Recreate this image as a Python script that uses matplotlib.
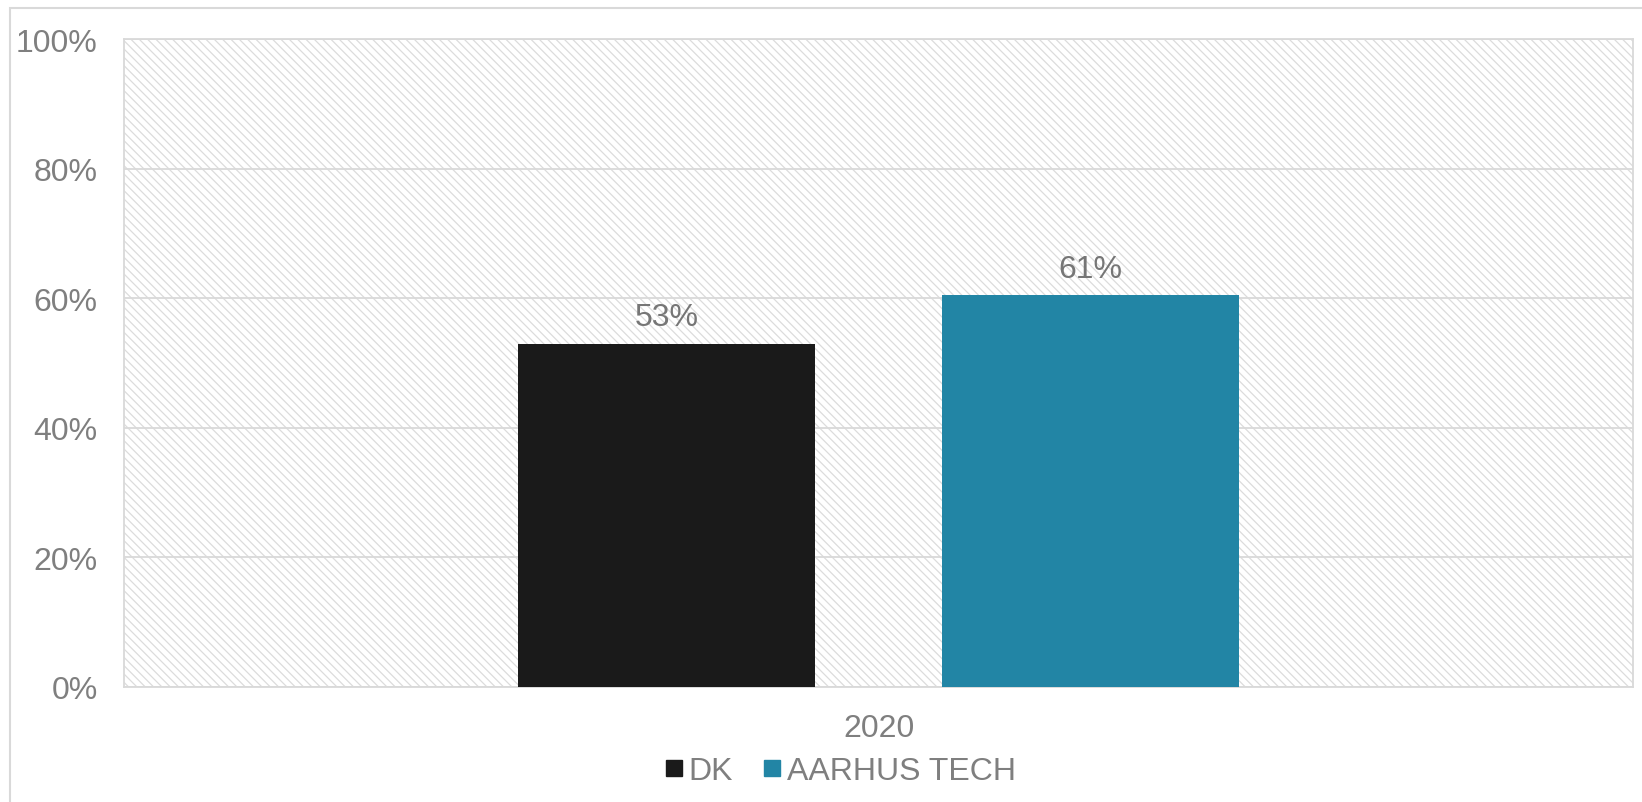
import matplotlib
matplotlib.use("Agg")
import matplotlib.pyplot as plt
from matplotlib.patches import Rectangle
from matplotlib.lines import Line2D

categories = ["2020"]
series_names = ["DK", "AARHUS TECH"]
values = [0.53, 0.605]
value_labels = ["53%", "61%"]
colors = ["#1a1a1a", "#2285a5"]
yticks = [0.0, 0.2, 0.4, 0.6, 0.8, 1.0]
ytick_labels = ["0%", "20%", "40%", "60%", "80%", "100%"]

W, H = 1642, 803
fig = plt.figure(figsize=(W / 100, H / 100), dpi=100)
plt.rcParams["font.family"] = ["Liberation Sans", "DejaVu Sans"]
plt.rcParams["hatch.linewidth"] = 0.9
plt.rcParams["hatch.color"] = "#dcdcdc"

left, right, top, bottom = 124, 1633, 40, 688
ax = fig.add_axes([left / W, 1 - bottom / H, (right - left) / W, (bottom - top) / H])
ax.set_facecolor("white")

# hatched background
bg = Rectangle((0, 0), 1, 1, transform=ax.transAxes, facecolor="white",
               edgecolor="#dcdcdc", hatch="\\" * 4, linewidth=0, zorder=0)
ax.add_patch(bg)

txt = "#7f7f7f"
fs = 23
width = 0.197
offsets = [-0.1405, 0.1405]
for i, (name, v, c, lab) in enumerate(zip(series_names, values, colors, value_labels)):
    b = ax.bar([offsets[i]], [v], width=width, color=c, zorder=3, label=name)
    ax.bar_label(b, labels=[lab], padding=8, fontsize=fs, color="#767676")

ax.set_xlim(-0.5, 0.5)
ax.set_ylim(0, 1.0)
ax.set_yticks(yticks)
ax.set_yticklabels(ytick_labels)
ax.set_xticks([0])
ax.set_xticklabels(categories)
ax.tick_params(axis="y", length=0, pad=19, labelsize=fs, labelcolor=txt)
ax.tick_params(axis="x", length=0, pad=18.5, labelsize=fs, labelcolor=txt)
ax.yaxis.grid(True, color="#d9d9d9", linewidth=1.3)
ax.set_axisbelow(True)
for s in ax.spines.values():
    s.set_color("#d9d9d9")
    s.set_linewidth(1.3)

# outer chart border
fig.patches.append(Rectangle((10 / W, -0.02), 1.05, 1 - 9 / H + 0.02, transform=fig.transFigure,
                             fill=False, edgecolor="#d9d9d9", linewidth=1.5))

handles = [Line2D([], [], linestyle="none", marker="s", markersize=11.5,
                  markerfacecolor=c, markeredgecolor=c) for c in colors]
fig.legend(handles, series_names, loc="center left",
           bbox_to_anchor=(664 / W, 1 - 772 / H), ncol=2, frameon=False,
           fontsize=fs, labelcolor=txt, handlelength=0.6, handletextpad=0.15,
           columnspacing=0.95, borderpad=0, borderaxespad=0)

fig.savefig("out.png", dpi=100)
